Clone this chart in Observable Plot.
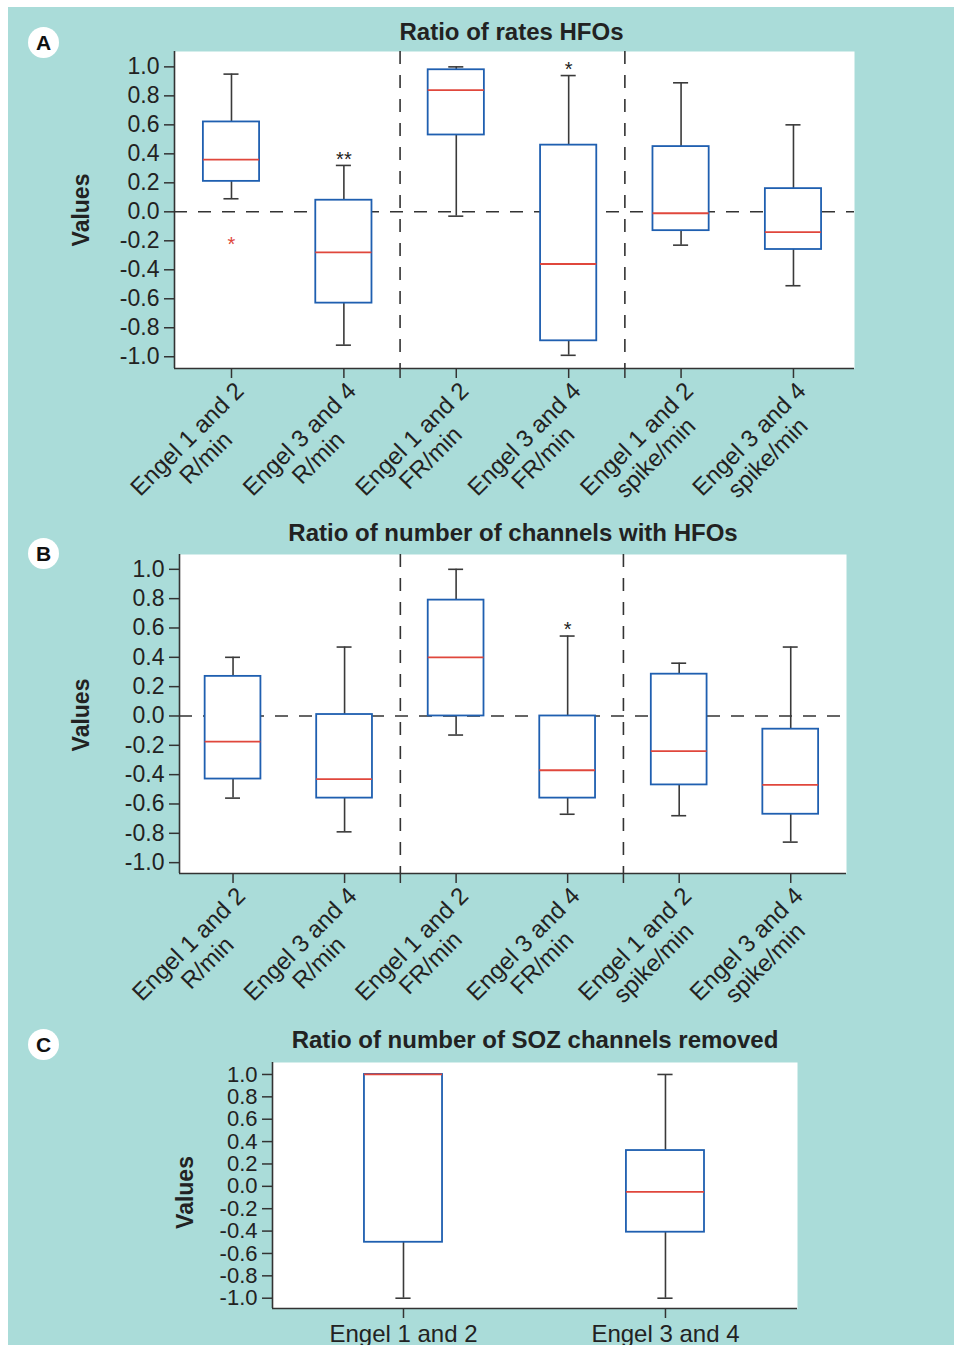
<!DOCTYPE html>
<html><head><meta charset="utf-8">
<script src="https://cdn.jsdelivr.net/npm/d3@7"></script>
<script src="https://cdn.jsdelivr.net/npm/@observablehq/plot@0.6"></script>
<style>
body{margin:0;background:#fff;width:954px;height:1345px;position:relative;overflow:hidden;font-family:"Liberation Sans",Arial,sans-serif;}
#bg{position:absolute;left:8px;top:7px;width:946px;height:1338px;background:#aadcd9;}
.badge{position:absolute;width:31px;height:31px;border-radius:50%;background:#fff;color:#111;font-weight:bold;font-size:21px;line-height:31px;text-align:center;}
.panel{position:absolute;left:0;}
</style></head><body>
<div id="bg"></div>
<div id="pA" class="panel" style="top:7px"></div>
<div id="pB" class="panel" style="top:510px"></div>
<div id="pC" class="panel" style="top:1012px"></div>
<div class="badge" style="left:28px;top:27px">A</div>
<div class="badge" style="left:28px;top:538px">B</div>
<div class="badge" style="left:28px;top:1029px">C</div>
<script>
// ---- data ----
const yTicks = [-1.0, -0.8, -0.6, -0.4, -0.2, 0.0, 0.2, 0.4, 0.6, 0.8, 1.0];
const groupCategories = [
  "Engel 1 and 2\nR/min", "Engel 3 and 4\nR/min",
  "Engel 1 and 2\nFR/min", "Engel 3 and 4\nFR/min",
  "Engel 1 and 2\nspike/min", "Engel 3 and 4\nspike/min"
];
const groupSize = 2;

const titleA = "Ratio of rates HFOs";
const aLow    = [0.09, -0.92, -0.03, -0.99, -0.23, -0.51];
const aQ1     = [0.21, -0.63, 0.53, -0.89, -0.13, -0.26];
const aMedian = [0.36, -0.28, 0.84, -0.36, -0.01, -0.14];
const aQ3     = [0.62, 0.08, 0.98, 0.46, 0.45, 0.16];
const aHigh   = [0.95, 0.32, 1.0, 0.94, 0.89, 0.60];
const aNotes  = ["", "**", "", "*", "", ""];
const aOutlierCategory = [1];
const aOutlierValue = [-0.19];

const titleB = "Ratio of number of channels with HFOs";
const bLow    = [-0.56, -0.79, -0.13, -0.67, -0.68, -0.86];
const bQ1     = [-0.43, -0.56, 0.0, -0.56, -0.47, -0.67];
const bMedian = [-0.175, -0.43, 0.40, -0.37, -0.24, -0.47];
const bQ3     = [0.27, 0.01, 0.79, 0.0, 0.285, -0.09];
const bHigh   = [0.40, 0.47, 1.0, 0.545, 0.36, 0.47];
const bNotes  = ["", "", "", "*", "", ""];

const titleC = "Ratio of number of SOZ channels removed";
const cCategories = ["Engel 1 and 2", "Engel 3 and 4"];
const cLow    = [-1.0, -1.0];
const cQ1     = [-0.50, -0.41];
const cMedian = [1.0, -0.05];
const cQ3     = [1.0, 0.32];
const cHigh   = [1.0, 1.0];
const cNotes  = ["", ""];

// ---- build ----
const FONT = "'Liberation Sans', Arial, Helvetica, sans-serif";
const BLUE = "#1f5fb0", RED = "#e0473c", DARK = "#333";

function rows(cats, low, q1, med, q3, high, notes) {
  return cats.map((c, k) => ({i: k + 1, label: c, low: low[k], q1: q1[k], median: med[k], q3: q3[k], high: high[k], note: notes[k]}));
}

function panel(o) {
  const data = o.data;
  const n = data.length;
  const separators = o.grouped ? d3.range(groupSize, n, groupSize).map(k => k + 0.5) : [];
  const tickPos = data.map(d => d.i).concat(separators);
  const labelMark = o.rotate
    ? Plot.text(data, {x: "i", frameAnchor: "bottom", text: "label", rotate: -45, textAnchor: "middle", lineAnchor: "top", lineHeight: 1.1, dx: -52, dy: 63, fontSize: 24, fill: "#222"})
    : Plot.text(data, {x: "i", frameAnchor: "bottom", text: "label", textAnchor: "middle", lineAnchor: "top", dy: 16, fontSize: 24, fill: "#222"});
  return Plot.plot({
    width: 954, height: o.height,
    marginTop: o.mt, marginBottom: o.mb, marginLeft: o.ml, marginRight: o.mr,
    x: {type: "linear", domain: o.xDomain, axis: null},
    y: {domain: o.yDomain, axis: null},
    style: {background: "transparent", fontFamily: FONT, fontSize: o.tickFont + "px", color: DARK, overflow: "visible"},
    marks: [
      Plot.frame({fill: "white", stroke: null}),
      o.zeroLine ? Plot.ruleY([0], {stroke: DARK, strokeWidth: 1.6, strokeDasharray: "13,11"}) : null,
      Plot.ruleX(separators, {stroke: DARK, strokeWidth: 1.6, strokeDasharray: "13,11"}),
      Plot.ruleX(data, {x: "i", y1: "low", y2: "high", stroke: "#3a3a3a", strokeWidth: 1.6}),
      Plot.ruleY(data, {y: "low", x1: d => d.i - o.capHalf, x2: d => d.i + o.capHalf, stroke: "#3a3a3a", strokeWidth: 1.6}),
      Plot.ruleY(data, {y: "high", x1: d => d.i - o.capHalf, x2: d => d.i + o.capHalf, stroke: "#3a3a3a", strokeWidth: 1.6}),
      Plot.rect(data, {x1: d => d.i - o.boxHalf, x2: d => d.i + o.boxHalf, y1: "q1", y2: "q3", fill: "white", stroke: BLUE, strokeWidth: 1.8}),
      Plot.ruleY(data, {y: "median", x1: d => d.i - o.boxHalf, x2: d => d.i + o.boxHalf, stroke: RED, strokeWidth: 1.8}),
      Plot.text(data.filter(d => d.note), {x: "i", y: "high", text: "note", dy: -6, fontSize: 20, fill: "#222"}),
      Plot.text(o.outliers || [], {x: "i", y: "value", text: () => "*", dy: 5, fontSize: 20, fill: RED}),
      Plot.ruleX([o.xDomain[0]], {stroke: DARK, strokeWidth: 1.6}),
      Plot.ruleY([o.yDomain[0]], {stroke: DARK, strokeWidth: 1.6}),
      Plot.axisY(yTicks, {tickSize: 10, tickPadding: 5, tickFormat: d => d.toFixed(1), label: null, strokeWidth: 1.5, fill: "#222"}),
      Plot.axisX(tickPos, {tickSize: 10, tickFormat: () => "", label: null, strokeWidth: 1.5}),
      labelMark,
      Plot.text([o.title], {frameAnchor: "top", dy: o.titleDy, dx: o.titleDx, fontWeight: "bold", fontSize: 24, fill: "#222"}),
      Plot.text(["Values"], {frameAnchor: "left", textAnchor: "middle", lineAnchor: "middle", dx: o.valuesDx, dy: o.valuesDy, rotate: -90, fontWeight: "bold", fontSize: 23, fill: "#222"})
    ]
  });
}

const outA = aOutlierCategory.map((c, k) => ({i: c, value: aOutlierValue[k]}));

document.getElementById("pA").append(panel({
  data: rows(groupCategories, aLow, aQ1, aMedian, aQ3, aHigh, aNotes), outliers: outA,
  title: titleA, grouped: true, rotate: true, zeroLine: true, tickFont: 23,
  height: 501, mt: 44, mb: 140, ml: 174, mr: 100,
  xDomain: [0.493, 6.543], yDomain: [-1.081, 1.106],
  boxHalf: 0.25, capHalf: 0.067, titleDy: -29, titleDx: -3, valuesDx: -93, valuesDy: 0
}));
document.getElementById("pB").append(panel({
  data: rows(groupCategories, bLow, bQ1, bMedian, bQ3, bHigh, bNotes),
  title: titleB, grouped: true, rotate: true, zeroLine: true, tickFont: 23,
  height: 493, mt: 44, mb: 130, ml: 179, mr: 108,
  xDomain: [0.52, 6.5], yDomain: [-1.074, 1.101],
  boxHalf: 0.25, capHalf: 0.067, titleDy: -31, titleDx: 0, valuesDx: -98, valuesDy: 1
}));
document.getElementById("pC").append(panel({
  data: rows(cCategories, cLow, cQ1, cMedian, cQ3, cHigh, cNotes),
  title: titleC, grouped: false, rotate: false, zeroLine: false, tickFont: 22,
  height: 333, mt: 50, mb: 37, ml: 272, mr: 157,
  xDomain: [0.5, 2.504], yDomain: [-1.092, 1.107],
  boxHalf: 0.149, capHalf: 0.029, titleDy: -32, titleDx: 0, valuesDx: -87, valuesDy: 7
}));
</script>
</body></html>
